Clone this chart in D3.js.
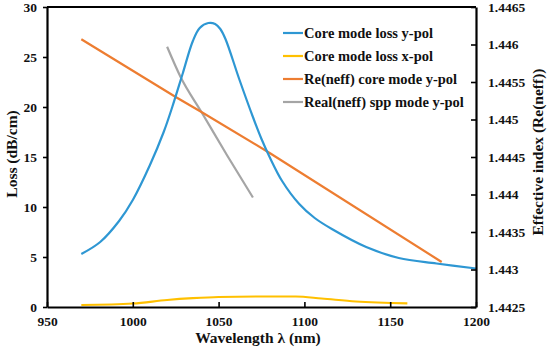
<!DOCTYPE html>
<html lang="en">
  <head>
    <meta charset="utf-8">
    <title>Loss and effective index vs wavelength</title>
    <style type="text/css">
      body { margin: 0; background: #fff; }
      svg { display: block; }
      text { font-family: "Liberation Serif", "Times New Roman", serif; font-weight: bold; fill: #111; }
    </style>
  </head>
  <body>
    <script type="text/javascript" src="https://d3js.org/d3.v7.min.js"></script>
    <script type="text/javascript">
    // ===================================
    // DATA
    // ===================================
      var xTicks = [950, 1000, 1050, 1100, 1150, 1200];
      var lossTicks = [0, 5, 10, 15, 20, 25, 30];
      var neffTicks = [1.4425, 1.443, 1.4435, 1.444, 1.4445, 1.445, 1.4455, 1.446, 1.4465];

      // core mode loss y-pol (dB/cm)
      var lossYWl = [970, 981, 992, 1000, 1010, 1018, 1023, 1029, 1035, 1039, 1044, 1048, 1051, 1054, 1062, 1070, 1075, 1080, 1087, 1097, 1106, 1116, 1136, 1155, 1177, 1200];
      var lossY   = [5.3, 6.5, 8.6, 10.7, 14.2, 17.5, 20.0, 23.3, 26.6, 27.9, 28.4, 28.3, 27.8, 26.8, 22.8, 19.0, 16.8, 14.9, 12.6, 10.3, 8.9, 7.8, 6.0, 4.9, 4.35, 3.85];

      // core mode loss x-pol (dB/cm)
      var lossXWl = [970, 1000, 1020, 1035, 1050, 1075, 1095, 1110, 1130, 1160];
      var lossX   = [0.2, 0.35, 0.7, 0.88, 1.0, 1.05, 1.05, 0.85, 0.55, 0.37];

      // Re(neff) core mode y-pol
      var neffCoreWl = [970, 1025, 1040, 1080, 1180];
      var neffCore   = [1.44607, 1.44530, 1.44510, 1.44455, 1.44310];

      // Real(neff) spp mode y-pol
      var neffSppWl = [1020, 1028, 1040, 1055, 1070];
      var neffSpp   = [1.44597, 1.44556, 1.44510, 1.44452, 1.44396];

      var legendNames = ["Core mode loss y-pol", "Core mode loss x-pol", "Re(neff) core mode y-pol", "Real(neff) spp mode y-pol"];
      var colors = ["#2e97d3", "#ffc000", "#ed7d31", "#a5a5a5"];

    // ===================================
    // SETUP
    // ===================================
      var w = 550, h = 351;
      var padLeft = 47, padRight = 476, padTop = 7, padBottom = 307;

      var svg = d3.select("body").append("svg")
        .attr("width", w)
        .attr("height", h);

      var x = d3.scaleLinear().domain([950, 1200]).range([padLeft, padRight]);
      var yL = d3.scaleLinear().domain([0, 30]).range([padBottom, padTop]);
      var yR = d3.scaleLinear().domain([1.4425, 1.4465]).range([padBottom, padTop]);

      function zip(a, b) {
        return a.map(function(d, i) { return [d, b[i]]; });
      }

      var series = [
        { pts: zip(lossYWl, lossY), y: yL, curve: d3.curveCatmullRom.alpha(0.5) },
        { pts: zip(lossXWl, lossX), y: yL, curve: d3.curveMonotoneX },
        { pts: zip(neffCoreWl, neffCore), y: yR, curve: d3.curveLinear },
        { pts: zip(neffSppWl, neffSpp), y: yR, curve: d3.curveMonotoneX }
      ];

    // ===================================
    // LINES
    // ===================================
      var drawOrder = [3, 2, 1, 0];
      drawOrder.forEach(function(i) {
        var s = series[i];
        var line = d3.line()
          .x(function(d) { return x(d[0]); })
          .y(function(d) { return s.y(d[1]); })
          .curve(s.curve);
        svg.append("path")
          .attr("d", line(s.pts))
          .attr("fill", "none")
          .attr("stroke", colors[i])
          .attr("stroke-width", 2.2);
      });

    // ===================================
    // AXES
    // ===================================
      var gx = svg.append("g")
        .attr("transform", "translate(0," + padBottom + ")")
        .call(d3.axisBottom(x).tickValues(xTicks).tickSize(-5).tickPadding(9).tickSizeOuter(0)
          .tickFormat(d3.format("d")));

      var gl = svg.append("g")
        .attr("transform", "translate(" + padLeft + ",0)")
        .call(d3.axisLeft(yL).tickValues(lossTicks).tickSize(4).tickPadding(6).tickSizeOuter(0));

      var gr = svg.append("g")
        .attr("transform", "translate(" + padRight + ",0)")
        .call(d3.axisRight(yR).tickValues(neffTicks).tickSize(-5).tickPadding(12).tickSizeOuter(0)
          .tickFormat(function(d) { return String(+d.toFixed(4)); }));

      [gx, gl, gr].forEach(function(g) {
        g.select(".domain").attr("stroke", "#000").attr("stroke-width", 2.2);
        g.selectAll(".tick line").attr("stroke", "#000").attr("stroke-width", 1.6);
        g.selectAll(".tick text")
          .attr("font-family", "Liberation Serif, Times New Roman, serif")
          .attr("font-weight", "bold")
          .attr("font-size", 13.5)
          .attr("fill", "#111");
      });

      // top border
      svg.append("line")
        .attr("x1", padLeft).attr("x2", padRight)
        .attr("y1", padTop).attr("y2", padTop)
        .attr("stroke", "#000")
        .attr("stroke-width", 2.2);

      // axis titles
      svg.append("text")
        .attr("x", 258)
        .attr("y", 343)
        .attr("text-anchor", "middle")
        .attr("font-size", 15.5)
        .text("Wavelength \u03bb (nm)");

      svg.append("text")
        .attr("transform", "translate(17,154) rotate(-90)")
        .attr("text-anchor", "middle")
        .attr("font-size", 15.5)
        .text("Loss (dB/cm)");

      svg.append("text")
        .attr("transform", "translate(543,152) rotate(-90)")
        .attr("text-anchor", "middle")
        .attr("font-size", 15.5)
        .text("Effective index (Re(neff))");

    // ===================================
    // LEGEND
    // ===================================
      var legend = svg.append("g").attr("transform", "translate(283,33)");
      legendNames.forEach(function(name, i) {
        var row = legend.append("g").attr("transform", "translate(0," + (i * 23) + ")");
        row.append("line")
          .attr("x1", 0).attr("x2", 20)
          .attr("y1", 0).attr("y2", 0)
          .attr("stroke", colors[i])
          .attr("stroke-width", 2.2);
        row.append("text")
          .attr("x", 21)
          .attr("y", 5)
          .attr("font-size", 14.5)
          .text(name);
      });
    </script>
  </body>
</html>
